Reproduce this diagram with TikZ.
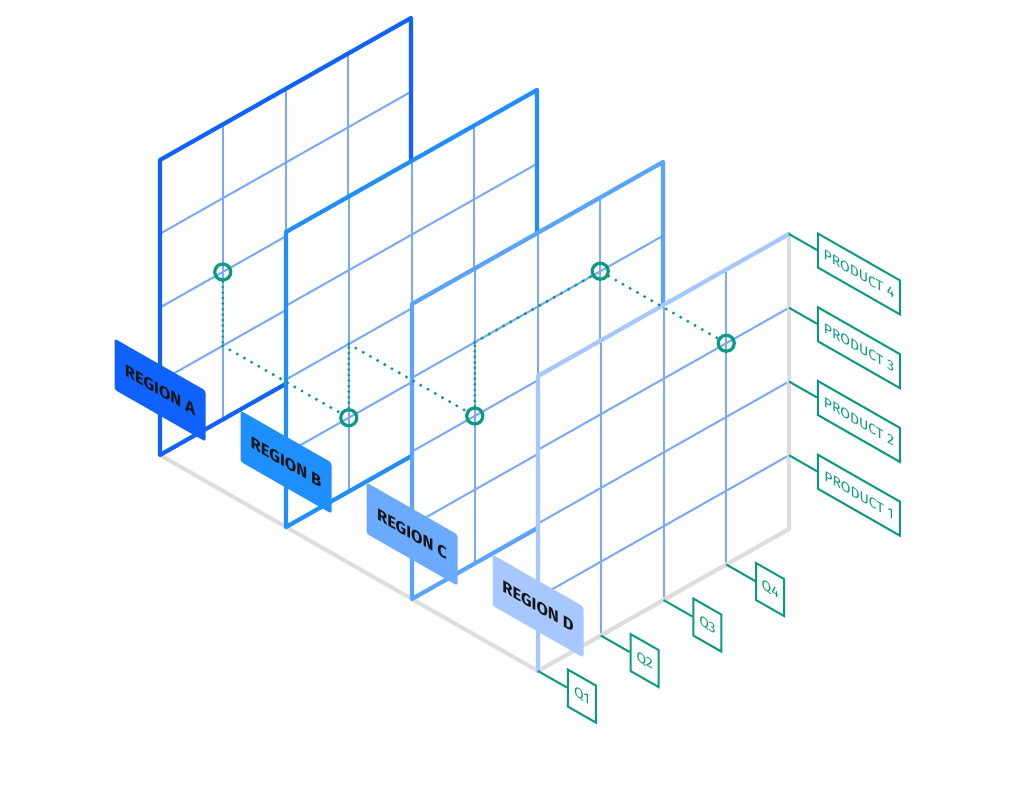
\documentclass[tikz,border=0pt]{standalone}
\usepackage{fontspec}
\setsansfont{Fira Sans}
\definecolor{frameA}{HTML}{0F62FE}
\definecolor{frameB}{HTML}{1F8FFF}
\definecolor{frameC}{HTML}{5AA4FF}
\definecolor{frameD}{HTML}{A6C8FF}
\definecolor{labA}{HTML}{0F62FE}
\definecolor{labB}{HTML}{1F8FFF}
\definecolor{labC}{HTML}{6AAAFF}
\definecolor{labD}{HTML}{A6C8FF}
\definecolor{gridblue}{HTML}{78A9FF}
\definecolor{floorgray}{HTML}{DDDDDD}
\definecolor{tealc}{HTML}{0A9A82}
\definecolor{labeltext}{HTML}{161616}
\tikzset{
  gridline/.style={draw=gridblue, line width=2pt},
  frameline/.style={line width=4.2pt, line join=round, line cap=round},
  floorline/.style={draw=floorgray, line width=4pt, line cap=round},
  regionlabel/.style={yslant=-0.5714, rounded corners=2.5pt, minimum width=91pt,
    minimum height=51pt, inner sep=0pt, text=labeltext,
    font=\sffamily\bfseries\fontsize{16.5}{16.5}\selectfont},
  productlabel/.style={yslant=-0.5714, draw=tealc, line width=2pt, fill=white,
    minimum width=82pt, minimum height=34pt, inner sep=0pt, text=tealc,
    font=\sffamily\fontsize{14}{14}\selectfont},
  qlabel/.style={yslant=-0.5714, draw=tealc, line width=2pt, fill=white,
    minimum width=28pt, minimum height=37pt, inner sep=0pt, text=tealc,
    font=\sffamily\fontsize{14}{14}\selectfont},
  conn/.style={draw=tealc, line width=2pt},
  ring/.style={circle, draw=tealc, line width=3.2pt, minimum size=16pt, inner sep=0pt},
  dotv/.style={draw=tealc, line width=3pt, line cap=round, dash pattern=on 0pt off 5.5pt},
  dotd/.style={draw=tealc, line width=3.3pt, line cap=round, dash pattern=on 0pt off 8.3pt},
}
\begin{document}
\begin{tikzpicture}
\useasboundingbox (0,0) rectangle (1024pt,-801pt);
\begin{scope}[x={(62.75pt,35.5pt)}, y={(0pt,73.75pt)}, z={(126pt,-72pt)}, shift={(160pt,-455pt)}]
  % floor line
  \coordinate (fl0) at (0,0,0);
  \coordinate (fl3) at (0,0,3);
  \draw[floorline] (fl0) -- (fl3);
  % panels A, B, C
  \foreach \k/\col/\lab/\letter in {0/frameA/labA/A, 1/frameB/labB/B, 2/frameC/labC/C}{
    \fill[white] (0,0,\k) -- (4,0,\k) -- (4,4,\k) -- (0,4,\k) -- cycle;
    \foreach \i in {1,2,3} \draw[gridline] (\i,0,\k) -- (\i,4,\k);
    \foreach \j in {1,2,3} \draw[gridline] (0,\j,\k) -- (4,\j,\k);
    \draw[frameline, draw=\col] (0,0,\k) -- (4,0,\k) -- (4,4,\k) -- (0,4,\k) -- cycle;
    \node[regionlabel, fill=\lab] (reg\letter) at (0,0.88,\k) {REGION \letter};
  }
  % panel D
  \fill[white] (0,0,3) -- (4,0,3) -- (4,4,3) -- (0,4,3) -- cycle;
  \foreach \i in {1,2,3} \draw[gridline] (\i,0,3) -- (\i,4,3);
  \foreach \j in {1,2,3} \draw[gridline] (0,\j,3) -- (4,\j,3);
  \draw[frameline, draw=floorgray] (0,0,3) -- (4,0,3) -- (4,4,3);
  \draw[frameline, draw=frameD] (4,4,3) -- (0,4,3) -- (0,0,3);
  \node[regionlabel, fill=labD] (regD) at (0,0.88,3) {REGION D};
  % product labels
  \foreach \j in {1,2,3,4}{
    \coordinate (p\j) at (4,\j,3);
    \node[productlabel, anchor=west] (prod\j) at (4,\j,3.222) {PRODUCT \j};
    \draw[conn] (p\j) -- (prod\j.west);
  }
  % quarter labels
  \foreach \i/\n in {0/1,1/2,2/3,3/4}{
    \coordinate (qc\n) at (\i,0,3);
    \node[qlabel, anchor=west] (q\n) at (\i,0,3.23) {Q\n};
    \draw[conn] (qc\n) -- (q\n.west);
  }
  % path points and rings
  \node[ring] (cA) at (1,2,0) {};
  \node[ring] (cB) at (1,1,1) {};
  \node[ring] (cC) at (1,2,2) {};
  \node[ring] (cC2) at (3,3,2) {};
  \node[ring] (cD) at (3,3,3) {};
  \coordinate (a1) at (1,1,0);
  \coordinate (b2) at (1,2,1);
  \coordinate (c3) at (1,3,2);
  \draw[dotv] (cA) -- (a1);
  \draw[dotd] (a1) -- (cB);
  \draw[dotv] (cB) -- (b2);
  \draw[dotd] (b2) -- (cC);
  \draw[dotv] (cC) -- (c3);
  \draw[dotd] (c3) -- (cC2);
  \draw[dotd] (cC2) -- (cD);
\end{scope}
\end{tikzpicture}
\end{document}
